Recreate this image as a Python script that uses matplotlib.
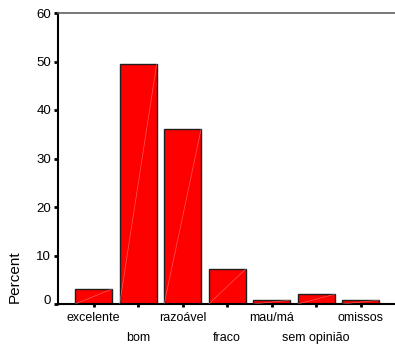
import matplotlib
matplotlib.use("Agg")
import matplotlib.pyplot as plt
import matplotlib.transforms as mtransforms

categories = ["excelente", "bom", "razoável", "fraco", "mau/má", "sem opinião", "omissos"]
percent = [3.1, 49.4, 36.1, 7.2, 0.8, 2.0, 0.8]
yticks = [0, 10, 20, 30, 40, 50, 60]

plt.rcParams['font.family'] = ['Liberation Sans', 'DejaVu Sans']

W, H = 395, 351
fig = plt.figure(figsize=(W / 100, H / 100), dpi=100)
ax = fig.add_axes([58 / W, 1 - 304 / H, (W - 58) / W, (304 - 13) / H])

x = list(range(len(categories)))
bw = 0.83
ax.bar(x, percent, width=bw, color="#ff0000", edgecolor="#202020", linewidth=1.0, zorder=2)
for xi, v in zip(x, percent):
    ax.plot([xi - bw / 2, xi + bw / 2], [0, v], color="#ffa0a0", lw=0.5, alpha=0.55, zorder=3)

ax.set_xlim(-0.8, 6.77)
ax.set_ylim(0, 60)
ax.set_yticks(yticks)
ax.set_yticklabels([str(t) for t in yticks], fontsize=9.5)
ax.set_xticks(x)
ax.set_xticklabels([])
for xi, lab in zip(x, categories):
    yoff = -8 if xi % 2 == 0 else -28
    ax.annotate(lab, xy=(xi, 0), xycoords=("data", "axes fraction"),
                xytext=(0, yoff), textcoords="offset pixels",
                ha="center", va="top", fontsize=9)

ax.tick_params(axis="y", direction="out", length=3, width=2, pad=2, color="black")
ax.tick_params(axis="x", direction="out", length=2, width=2, color="black")
ax.spines["left"].set_linewidth(1.5)
ax.spines["bottom"].set_linewidth(1.5)
ax.spines["top"].set_color("#606060")
ax.spines["top"].set_linewidth(1.2)
ax.spines["right"].set_visible(False)

fig.canvas.draw()
lab0 = ax.get_yticklabels()[0]
lab0.set_transform(lab0.get_transform() + mtransforms.ScaledTranslation(0, 5 / 100, fig.dpi_scale_trans))

fig.text(15 / W, 1 - 277 / H, "Percent", rotation=90, ha="center", va="center", fontsize=11)

fig.savefig("out.png", dpi=100)
